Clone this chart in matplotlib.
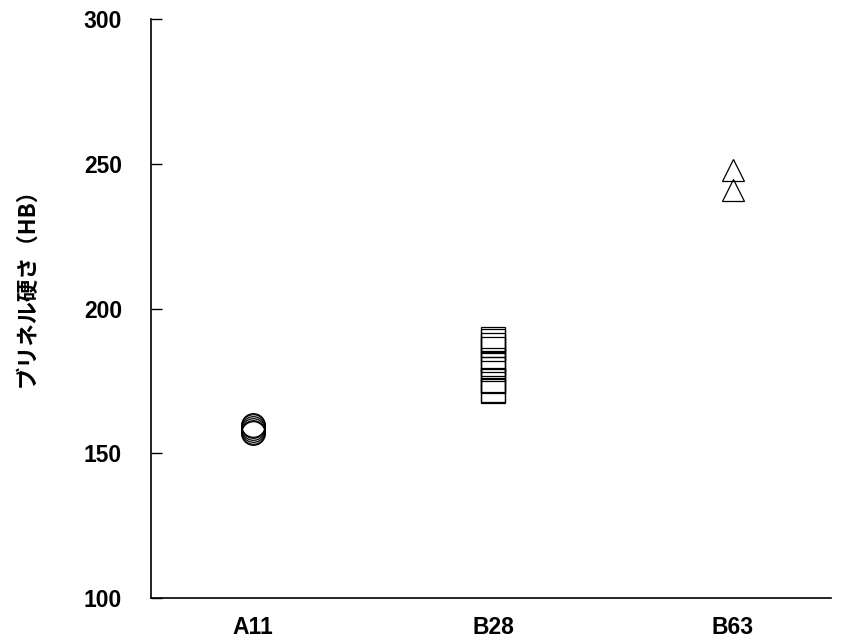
import matplotlib

matplotlib.use("Agg")
import matplotlib.pyplot as plt

# Brinell hardness readings per material
CATEGORIES = ["A11", "B28", "B63"]
A11_HB = [157.0, 157.5, 158.2, 158.8, 159.3, 159.8]
B28_HB = [189.5, 188.8, 187.4, 186.0, 182.2, 180.8, 179.1, 175.3, 174.9, 171.8, 171.5]
B63_HB = [248.0, 240.8]
Y_TICKS = [100, 150, 200, 250, 300]

LATIN = ["Liberation Sans", "Noto Sans CJK JP", "DejaVu Sans"]
CJK = ["Noto Sans CJK JP", "DejaVu Sans"]

fig = plt.figure(figsize=(8.44, 6.4), dpi=100)
ax = fig.add_axes([0.179, 0.0656, 0.806, 0.9047])

series = [(A11_HB, "o"), (B28_HB, "s"), (B63_HB, "^")]
for i, (vals, mk) in enumerate(series):
    ax.plot([i] * len(vals), vals, linestyle="none", marker=mk,
            markersize=17 if mk != "^" else 16, markerfacecolor="none",
            markeredgecolor="black", markeredgewidth=0.9)

ax.set_xlim(-0.425, 2.41)
ax.set_ylim(100, 300)
ax.set_xticks(range(len(CATEGORIES)))
ax.set_xticklabels(CATEGORIES, family=LATIN, fontsize=16.5, fontweight="bold")
ax.set_yticks(Y_TICKS)
ax.set_yticklabels([str(v) for v in Y_TICKS], family=LATIN, fontsize=16.5, fontweight="bold")
ax.tick_params(axis="x", length=0, pad=13)
ax.tick_params(axis="y", direction="in", length=8, width=1, pad=21)

for side in ["top", "right"]:
    ax.spines[side].set_visible(False)
for side in ["left", "bottom"]:
    ax.spines[side].set_linewidth(1.2)

ax.set_ylabel("ブリネル硬さ（HB）", family=CJK, fontsize=16, fontweight="bold")
ax.yaxis.set_label_coords(-0.166, 0.545)

fig.savefig("out.png", dpi=100, facecolor="white")
